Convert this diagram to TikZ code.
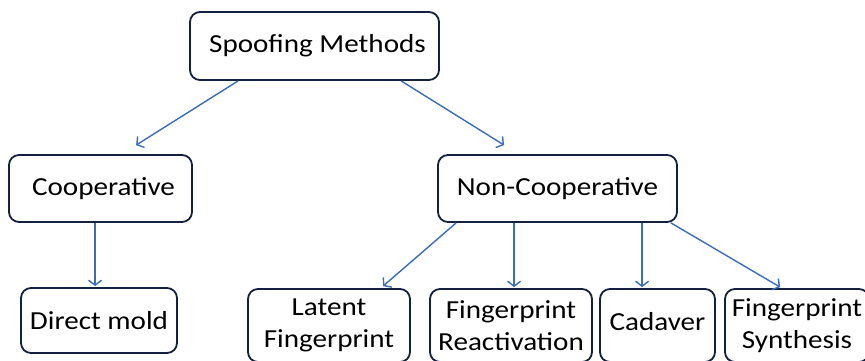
\documentclass[tikz,border=0pt]{standalone}
\usepackage{fontspec}
\setmainfont[FakeStretch=1.12]{Carlito}
\usetikzlibrary{arrows.meta,calc}
\definecolor{boxline}{HTML}{13203F}
\definecolor{arrowblue}{HTML}{3A6CC0}
\tikzset{
  boxnode/.style={draw=boxline, line width=1.8pt, rounded corners=10pt, inner sep=0pt,
    align=center, font=\fontsize{26}{32}\selectfont},
  conn/.style={draw=arrowblue, line width=1.4pt, -{Straight Barb[length=5pt,width=13pt,line width=1.4pt]}}
}
\begin{document}
\begin{tikzpicture}[x=1pt,y=-1pt]
\useasboundingbox (0,0) rectangle (865,360);
\clip (0,0) rectangle (865,360);
\fill[white] (0,0) rectangle (865,360);
\node[boxnode, minimum width=249pt, minimum height=68pt] (sm) at (314.5,46) {\hspace*{6pt}Spoofing Methods};
\node[boxnode, minimum width=183pt, minimum height=67pt] (coop) at (100.5,188.5) {\hspace*{6pt}Cooperative};
\node[boxnode, minimum width=239pt, minimum height=67pt] (nc) at (557.5,188.5) {Non-Cooperative};
\node[boxnode, minimum width=156pt, minimum height=65pt] (dm) at (99,320.5) {Direct mold};
\node[boxnode, minimum width=162pt, minimum height=73pt] (lf) at (329,325.5) {Latent\\Fingerprint};
\node[boxnode, minimum width=162pt, minimum height=73pt] (fr) at (511,325.5) {Fingerprint\\Reactivation};
\node[boxnode, minimum width=115pt, minimum height=73pt, text height=16pt, text depth=7pt] (cad) at (657.5,325.5) {Cadaver};
\node[boxnode, minimum width=144pt, minimum height=73pt] (fs) at (797,325.5) {Fingerprint\\Synthesis};
% connectors
\draw[conn] ($(sm.south west)+(49,0)$) -- ($(coop.north west)+(128,-9)$);
\draw[conn] ($(sm.south west)+(212,0)$) -- ($(nc.north west)+(67,-9)$);
\draw[conn] ($(coop.south west)+(87,0)$) -- ($(dm.north west)+(75,-1)$);
\draw[conn] ($(nc.south west)+(19,0)$) -- ($(lf.north west)+(136,-2)$);
\draw[conn] ($(nc.south west)+(77,0)$) -- ($(fr.north west)+(85,-1)$);
\draw[conn] ($(nc.south west)+(205,0)$) -- ($(cad.north west)+(43,-1)$);
\draw[conn] ($(nc.south east)+(-7,0)$) -- ($(fs.north west)+(56,-1)$);
\end{tikzpicture}
\end{document}
